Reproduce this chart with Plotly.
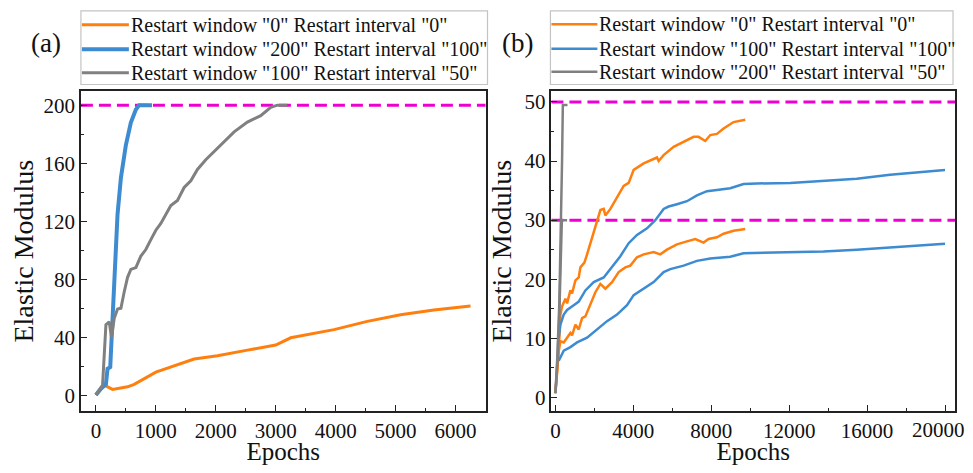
import plotly.graph_objects as go

# ---------- Panel (a) data ----------
a_orange_x = [0, 139, 278, 528, 639, 1000, 1639, 2028, 2528, 3000, 3250, 3972, 4528, 5083, 5639, 6250]
a_orange_y = [0.7, 7.4, 4.5, 6.3, 8, 16.4, 25.4, 27.7, 31.5, 35, 40, 45.6, 51.3, 55.8, 59.1, 61.8]

a_blue_x = [0, 83, 167, 194, 239, 261, 289, 322, 361, 417, 500, 583, 667, 722, 935]
a_blue_y = [0.7, 5, 8, 18.7, 19.8, 40, 64.7, 98, 125, 150, 172.6, 188, 197, 200, 200]

a_gray_x = [0, 111, 167, 222, 261, 306, 361, 417, 472, 528, 583, 667, 750, 833, 917, 1000,
            1083, 1167, 1250, 1361, 1472, 1583, 1694, 1833, 1972, 2139, 2306, 2528, 2750,
            2917, 3028, 3194]
a_gray_y = [0.7, 7.4, 49, 51, 40, 53.5, 59.8, 60.3, 71.5, 81.6, 87, 88.3, 96.2, 100.7, 107.5, 114,
            118.7, 125.4, 131, 134.5, 143.4, 148, 155.8, 162.5, 168, 175, 181.6, 188.4, 192.8,
            198.5, 200, 200]

a_target = [200]

# ---------- Panel (b) data ----------
b_orange50_x = [0, 171, 256, 342, 513, 598, 769, 855, 1026, 1197, 1282, 1487, 1624, 1795, 2051,
                2308, 2479, 2564, 2821, 3163, 3504, 3761, 4017, 4530, 5214, 5299, 5555, 6068,
                6581, 7094, 7350, 7692, 7949, 8291, 8633, 9145, 9744]
b_orange50_y = [0.7, 7.9, 14, 15.4, 16.7, 15.9, 18.1, 17.6, 19.8, 20.3, 22, 22.8, 24.2, 26.1, 28.9,
                31.7, 31.9, 30.8, 31.9, 33.9, 35.8, 36.3, 38.5, 39.6, 40.6, 40, 41, 42.4,
                43.3, 44.1, 44.1, 43.4, 44.4, 44.6, 45.5, 46.6, 47]

b_orange30_x = [0, 171, 256, 427, 598, 769, 855, 1026, 1197, 1368, 1538, 1795, 2051, 2308, 2564,
                2906, 3248, 3590, 3846, 4188, 4530, 5043, 5385, 5726, 6239, 6752, 7179, 7606,
                7863, 8291, 8633, 9145, 9744]
b_orange30_y = [0.7, 7.9, 9.5, 9.3, 10.1, 10.9, 10.5, 12.3, 11.5, 13.4, 13.7, 15.6, 17.8, 19.2, 18.4,
                19.5, 21.2, 22, 22.3, 23.7, 24.2, 24.6, 24.2, 25, 25.9, 26.4, 26.8, 26.2,
                26.8, 27.1, 27.7, 28.2, 28.5]

b_blue50_x = [171, 256, 427, 598, 940, 1197, 1538, 1966, 2479, 2906, 3333, 3761, 4188, 4701, 5128,
              5555, 5812, 6239, 6752, 7265, 7778, 8291, 8974, 9658, 10342, 12051, 13761, 15470,
              17179, 18889, 20000]
b_blue50_y = [10.1, 12.3, 14, 14.8, 15.6, 16.2, 18.1, 19.5, 20.3, 22, 23.9, 26.1, 27.5, 28.6, 30,
              31.9, 32.3, 32.7, 33.2, 34.2, 34.9, 35.1, 35.4, 36.1, 36.2, 36.3, 36.7, 37,
              37.7, 38.2, 38.5]

b_blue30_x = [171, 427, 769, 1111, 1624, 2137, 2650, 3162, 3675, 4017, 4530, 5043, 5555, 5897,
              6581, 7265, 7949, 8974, 9658, 11197, 13761, 15470, 17179, 20000]
b_blue30_y = [6.2, 7.9, 8.5, 9.3, 10.1, 11.5, 12.9, 14, 15.6, 17.3, 18.4, 19.5, 21.2, 21.7,
              22.3, 23.1, 23.5, 23.8, 24.4, 24.5, 24.7, 25, 25.4, 26]

b_gray30_x = [0, 100, 200, 260, 300, 330, 600]
b_gray30_y = [0.7, 6, 14, 22, 28, 30, 30]
b_gray50_x = [0, 100, 200, 280, 340, 380, 620]
b_gray50_y = [0.7, 7, 16, 28, 40, 49.5, 49.5]

b_targets = [30, 50]

b_xticks = [0, 4000, 8000, 12000, 16000, 20000]

labels_a = ['Restart window "0" Restart interval "0"',
            'Restart window "200" Restart interval "100"',
            'Restart window "100" Restart interval "50"']
labels_b = ['Restart window "0" Restart interval "0"',
            'Restart window "100" Restart interval "100"',
            'Restart window "200" Restart interval "50"']

ORANGE = "#FF7F0E"
BLUE = "#3D8BD0"
GRAY = "#808080"
MAGENTA = "#EE00D0"
FONT = "Liberation Serif, Times New Roman, serif"

colors_a = [ORANGE, BLUE, GRAY]
widths_a = [3, 4, 3]
colors_b = [ORANGE, BLUE, GRAY]
widths_b = [2.5, 2.5, 2.5]

fig = go.Figure()

# panel (a)
for xs, ys, c, w in [(a_orange_x, a_orange_y, ORANGE, 3),
                     (a_blue_x, a_blue_y, BLUE, 4),
                     (a_gray_x, a_gray_y, GRAY, 3)]:
    fig.add_trace(go.Scatter(x=xs, y=ys, mode="lines", showlegend=False,
                             line=dict(color=c, width=w), xaxis="x", yaxis="y"))

# panel (b)
for xs, ys, c in [(b_orange50_x, b_orange50_y, ORANGE), (b_orange30_x, b_orange30_y, ORANGE),
                  (b_blue50_x, b_blue50_y, BLUE), (b_blue30_x, b_blue30_y, BLUE),
                  (b_gray50_x, b_gray50_y, GRAY), (b_gray30_x, b_gray30_y, GRAY)]:
    fig.add_trace(go.Scatter(x=xs, y=ys, mode="lines", showlegend=False,
                             line=dict(color=c, width=2.5), xaxis="x2", yaxis="y2"))

DASH = "12px,6px"
shapes = []
for t in a_target:
    shapes.append(dict(type="line", xref="x domain", yref="y", x0=0, x1=1, y0=t, y1=t,
                       line=dict(color=MAGENTA, width=3, dash=DASH), layer="below"))
for t in b_targets:
    shapes.append(dict(type="line", xref="x2 domain", yref="y2", x0=0, x1=1, y0=t, y1=t,
                       line=dict(color=MAGENTA, width=3, dash=DASH), layer="below"))

# page body has an 8px margin: figure pixel = reference pixel - 8; keep the page from overflowing
OFF = 8
W, H = 973 - 2 * OFF, 473 - 2 * OFF


def px(xr):
    return (xr - OFF) / W


def py(yr):
    return (H - (yr - OFF)) / H


annotations = []


def add_legend(x0, x1, y0, y1, line_x0, line_x1, text_x, rows_y, labels, colors, widths):
    shapes.append(dict(type="rect", xref="paper", yref="paper",
                       x0=px(x0), x1=px(x1), y0=py(y1), y1=py(y0),
                       line=dict(color="#C4C4C4", width=1.2), fillcolor="white", layer="above"))
    for ry, lab, c, w in zip(rows_y, labels, colors, widths):
        shapes.append(dict(type="line", xref="paper", yref="paper",
                           x0=px(line_x0), x1=px(line_x1), y0=py(ry), y1=py(ry),
                           line=dict(color=c, width=w), layer="above"))
        annotations.append(dict(text=lab, x=px(text_x), y=py(ry), xref="paper", yref="paper",
                                xanchor="left", yanchor="middle", showarrow=False,
                                font=dict(family=FONT, size=20, color="#111")))


add_legend(80, 487, 10, 85, 81, 128, 128, [24, 49, 73], labels_a, colors_a, widths_a)
add_legend(550, 953, 10, 85, 551, 597, 597, [23.5, 48.5, 72], labels_b, colors_b, widths_b)

annotations.append(dict(text="(a)", x=px(28), y=py(25), xref="paper", yref="paper", showarrow=False,
                        font=dict(family=FONT, size=27, color="#111")))
annotations.append(dict(text="(b)", x=px(517), y=py(25), xref="paper", yref="paper", showarrow=False,
                        font=dict(family=FONT, size=27, color="#111")))
# last tick label of panel (b) is nudged left so it stays inside the page
annotations.append(dict(text=str(b_xticks[-1]), x=b_xticks[-1], xref="x2", y=py(437), yref="paper",
                        xanchor="center", yanchor="middle", xshift=-7, showarrow=False,
                        font=dict(family=FONT, size=21, color="#111")))

ya_dom = [py(418), py(92)]

axis_common = dict(showline=True, mirror=True, linecolor="#222", linewidth=1.5,
                   ticks="inside", ticklen=6, tickwidth=1.2, tickcolor="#222",
                   showgrid=False, zeroline=False, tickformat="d",
                   tickfont=dict(family=FONT, size=21, color="#111"))
XT = dict(family=FONT, size=25, color="#111")
YT = dict(family=FONT, size=28, color="#111")

fig.update_layout(
    width=W, height=H, margin=dict(l=0, r=0, t=0, b=0),
    paper_bgcolor="white", plot_bgcolor="white",
    font=dict(family=FONT, color="#111"),
    showlegend=False,
    shapes=shapes,
    annotations=annotations,
    xaxis=dict(domain=[px(80), px(485)], range=[-250, 6500], tick0=0, dtick=1000,
               minor=dict(ticks="inside", ticklen=3, dtick=500, tickcolor="#222"),
               title=dict(text="Epochs", standoff=5, font=XT), anchor="y", **axis_common),
    yaxis=dict(domain=ya_dom, range=[-10.3, 209.5], tick0=0, dtick=40,
               minor=dict(ticks="inside", ticklen=3, dtick=20, tickcolor="#222"),
               title=dict(text="Elastic Modulus", standoff=7, font=YT), anchor="x", **axis_common),
    xaxis2=dict(domain=[px(551), px(955)], range=[-205, 20513],
                tickvals=b_xticks, ticktext=[str(v) for v in b_xticks[:-1]] + [""],
                minor=dict(ticks="inside", ticklen=3, tickvals=[2000, 6000, 10000, 14000, 18000],
                           tickcolor="#222"),
                title=dict(text="Epochs", standoff=5, font=XT), anchor="y2", **axis_common),
    yaxis2=dict(domain=ya_dom, range=[-2.3, 51.8], tick0=0, dtick=10,
                minor=dict(ticks="inside", ticklen=3, dtick=5, tickcolor="#222"),
                title=dict(text="Elastic Modulus", standoff=5, font=YT), anchor="x2", **axis_common),
)

fig.write_html("out.html")
